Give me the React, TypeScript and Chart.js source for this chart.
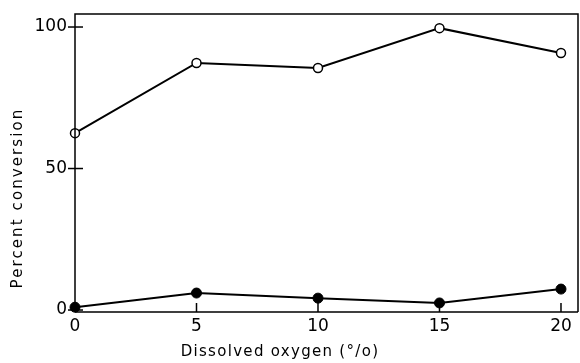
import React, { useEffect, useRef } from "react";
import { Chart, registerables } from "chart.js";

Chart.register(...registerables);

const oxygen = [0, 5, 10, 15, 20];
const openConversion = [62.5, 87.3, 85.5, 99.6, 90.8];
const filledConversion = [1.0, 6.0, 4.2, 2.5, 7.4];
const xTicks = [0, 5, 10, 15, 20];
const yTicks = [0, 50, 100];
const xTitle = "Dissolved oxygen (°/o)";
const yTitle = "Percent conversion";

const FONT = "'DejaVu Sans', sans-serif";

const decorPlugin = {
  id: "decor",
  afterDraw(chart: any) {
    const { ctx, chartArea, scales } = chart;
    const xs = scales.x;
    const ys = scales.y;
    ctx.save();
    ctx.strokeStyle = "#000";
    ctx.lineWidth = 1.5;
    ctx.beginPath();
    ctx.moveTo(chartArea.left, chartArea.bottom);
    ctx.lineTo(chartArea.left, chartArea.top);
    ctx.lineTo(chartArea.right, chartArea.top);
    ctx.lineTo(chartArea.right, chartArea.bottom);
    ctx.moveTo(chartArea.left, chartArea.bottom);
    ctx.lineTo(chartArea.right, chartArea.bottom);
    ctx.stroke();
    for (const v of yTicks) {
      const py = ys.getPixelForValue(v);
      ctx.beginPath();
      ctx.moveTo(chartArea.left - 7, py);
      ctx.lineTo(chartArea.left + 8, py);
      ctx.stroke();
    }
    for (const v of xTicks) {
      const px = xs.getPixelForValue(v);
      ctx.beginPath();
      ctx.moveTo(px, chartArea.bottom);
      ctx.lineTo(px, chartArea.bottom - 9);
      ctx.stroke();
    }
    ctx.fillStyle = "#000";
    ctx.font = `15px ${FONT}`;
    ctx.textAlign = "center";
    ctx.textBaseline = "middle";
    (ctx as any).letterSpacing = "1.3px";
    ctx.fillText(xTitle, 280, 352);
    (ctx as any).letterSpacing = "2.1px";
    ctx.translate(18, 198);
    ctx.rotate(-Math.PI / 2);
    ctx.fillText(yTitle, 0, 0);
    ctx.restore();
  },
};

export default function App() {
  const ref = useRef<HTMLCanvasElement | null>(null);

  useEffect(() => {
    const canvas = ref.current;
    if (!canvas) return;
    const chart = new Chart(canvas, {
      type: "line",
      data: {
        datasets: [
          {
            label: "open",
            data: oxygen.map((x, i) => ({ x, y: openConversion[i] })),
            borderColor: "#000",
            borderWidth: 2,
            pointRadius: 4.5,
            pointBorderWidth: 1.5,
            pointBackgroundColor: "#fff",
            pointBorderColor: "#000",
            tension: 0,
          },
          {
            label: "filled",
            data: oxygen.map((x, i) => ({ x, y: filledConversion[i] })),
            borderColor: "#000",
            borderWidth: 2,
            pointRadius: 5,
            pointBorderWidth: 1,
            pointBackgroundColor: "#000",
            pointBorderColor: "#000",
            tension: 0,
          },
        ],
      },
      options: {
        animation: false,
        responsive: false,
        maintainAspectRatio: false,
        clip: false as any,
        layout: { autoPadding: false, padding: { top: 14, right: 2, left: 0, bottom: 0 } },
        plugins: {
          legend: { display: false },
          tooltip: { enabled: false },
        },
        scales: {
          x: {
            type: "linear",
            min: 0,
            max: 20.7,
            afterBuildTicks: (s: any) => {
              s.ticks = xTicks.map((v) => ({ value: v }));
            },
            afterFit: (s: any) => {
              s.height = 51;
              s.paddingLeft = 0;
              s.paddingRight = 0;
            },
            grid: { display: false, drawTicks: false },
            border: { display: false },
            ticks: {
              color: "#000",
              font: { family: FONT, size: 17 },
              padding: 4,
              maxRotation: 0,
            },
          },
          y: {
            type: "linear",
            min: -0.7,
            max: 104.6,
            afterBuildTicks: (s: any) => {
              s.ticks = yTicks.map((v) => ({ value: v }));
            },
            afterFit: (s: any) => {
              s.width = 75;
              s.paddingTop = 0;
              s.paddingBottom = 0;
            },
            grid: { display: false, drawTicks: false },
            border: { display: false },
            ticks: {
              color: "#000",
              font: { family: FONT, size: 17 },
              padding: 8,
            },
          },
        },
      },
      plugins: [decorPlugin],
    });
    return () => chart.destroy();
  }, []);

  return (
    <div style={{ position: "absolute", left: 0, top: 0, width: 580, height: 363, background: "#fff" }}>
      <canvas ref={ref} width={580} height={363} style={{ width: 580, height: 363 }} />
    </div>
  );
}
